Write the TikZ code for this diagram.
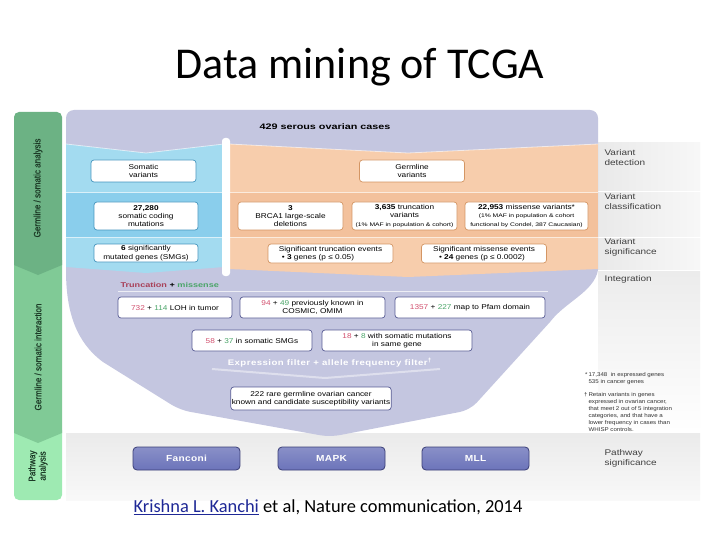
\documentclass[tikz,border=0pt]{standalone}
\usepackage{fontspec}
\setmainfont{Liberation Sans}
\newfontfamily\calibri{Carlito}
\usepackage{tikz}
\usetikzlibrary{positioning}
\definecolor{lav}{RGB}{196,198,224}
\definecolor{blueA}{RGB}{163,219,240}
\definecolor{blueB}{RGB}{138,206,236}
\definecolor{orangeA}{RGB}{247,205,172}
\definecolor{orangeB}{RGB}{243,193,156}
\definecolor{blueedge}{RGB}{70,150,190}
\definecolor{orangeedge}{RGB}{212,150,100}
\definecolor{lavedge}{RGB}{88,92,148}
\definecolor{greenA}{RGB}{108,178,132}
\definecolor{greenB}{RGB}{128,202,150}
\definecolor{greenC}{RGB}{158,234,178}
\definecolor{greentext}{RGB}{28,58,38}
\definecolor{trunc}{RGB}{210,80,110}
\definecolor{miss}{RGB}{75,165,105}
\definecolor{pathfill}{RGB}{108,116,186}
\definecolor{pathedge}{RGB}{58,62,118}
\definecolor{linkblue}{RGB}{30,40,150}
\newcommand\notesize{\fontsize{5.2}{5.9}\selectfont\addfontfeature{FakeStretch=1.3}}

\begin{document}
\begin{tikzpicture}[x=1pt,y=-1pt,
    box/.style={draw=#1,fill=white,rounded corners=3pt,line width=0.7pt,align=center,inner sep=1pt,font=\fontsize{7}{8.4}\selectfont\addfontfeature{FakeStretch=1.18}},
    box/.default=lavedge,
    footnote/.style={anchor=north west,align=left,text=black!80,font=\fontsize{5.5}{6.9}\selectfont\addfontfeature{FakeStretch=1.12}},
    rowlabel/.style={anchor=north west,align=left,text=black!75,font=\fontsize{8.2}{9.8}\selectfont\addfontfeature{FakeStretch=1.22}},
    sidelabel/.style={rotate=90,text=greentext,align=center,font=\fontsize{9.4}{10.4}\selectfont\addfontfeature{FakeStretch=0.86,FakeBold=0.5}},
    pathbox/.style={draw=pathedge,top color=pathfill!80,bottom color=pathfill,rounded corners=4pt,line width=0.8pt,minimum width=107,minimum height=23,text=white,font=\bfseries\fontsize{8.8}{10}\selectfont\addfontfeature{LetterSpace=4,FakeStretch=1.15}}]
  \useasboundingbox (0,0) rectangle (720,540);
  \fill[white] (0,0) rectangle (720,540);

  % title
  \node[font=\calibri\fontsize{44}{48}\selectfont] (title) at (360,67) {Data mining of TCGA};

  % left stage bar
  \fill[greenC] (14,430) -- (62,430) [rounded corners=5pt]-- (62,500) -- (14,500) [sharp corners]-- cycle;
  \fill[greenB] (14,260) -- (62,260) -- (62,433) -- (38,443) -- (14,433) -- cycle;
  \fill[greenA] (14,265) [rounded corners=5pt]-- (14,112) -- (62,112) [sharp corners]-- (62,265) -- (38,275) -- cycle;
  \node[sidelabel] (stage1) at (38,188) {Germline / somatic analysis};
  \node[sidelabel] (stage2) at (38,357) {Germline / somatic interaction};
  \node[sidelabel] (stage3) at (38,466) {Pathway\\analysis};

  % grey row bands on the right
  \shade[left color=gray!17,right color=gray!6] (598,143) rectangle (700,191);
  \shade[left color=gray!17,right color=gray!6] (598,193) rectangle (700,236);
  \shade[left color=gray!17,right color=gray!6] (598,238) rectangle (700,269);
  \shade[top color=gray!15,bottom color=white] (598,271) rectangle (700,432);
  \shade[top color=gray!16,bottom color=gray!5] (66,433) rectangle (700,500);

  % funnel
  \fill[lav] (66,270) [rounded corners=8pt]-- (66,110) -- (598,110) [sharp corners]-- (598,270)
    .. controls (594,292) and (565,302) .. (550,322) [rounded corners=10pt]-- (470,410) -- (330,437) -- (180,410) [sharp corners]-- (103,362)
    .. controls (76,342) and (66,312) .. cycle;
  \begin{scope}
    \clip (66,144) -- (146,153) -- (224,144) -- (224,267) -- (146,273) -- (66,267) -- cycle;
    \fill[blueA] (66,140) rectangle (224,275);
    \fill[blueB] (66,193) rectangle (224,237);
  \end{scope}
  \begin{scope}
    \clip (229,144) -- (408,153) -- (598,144) -- (598,269) -- (408,277) -- (229,269) -- cycle;
    \fill[orangeA] (229,140) rectangle (598,280);
    \fill[orangeB] (229,193) rectangle (598,237);
  \end{scope}
  \draw[white,opacity=.6,line width=.8pt] (66,144) -- (146,153) -- (224,144) (229,144) -- (408,153) -- (598,144);
  \draw[white,opacity=.6,line width=.8pt] (66,192.5) -- (224,192.5) (229,192.5) -- (598,192.5) (66,237) -- (224,237) (229,237) -- (598,237);
  \fill[white,rounded corners=3pt] (222,138) rectangle (230,276);
  \node[font=\bfseries\fontsize{8}{9}\selectfont\addfontfeature{FakeStretch=1.35}] (cases) at (325,127) {429 serous ovarian cases};

  % somatic side
  \node[box=blueedge,minimum width=105,minimum height=22] (somvar) at (143.5,171) {Somatic\\variants};
  \node[box=blueedge,minimum width=104,minimum height=28] (somcod) at (146,216) {\textbf{27,280}\\somatic coding\\mutations};
  \node[box=blueedge,minimum width=104,minimum height=18] (smg) at (146,253) {\textbf{6} significantly\\mutated genes (SMGs)};

  % germline side
  \node[box=orangeedge,minimum width=105,minimum height=22] (germvar) at (412,171) {Germline\\variants};
  \node[box=orangeedge,minimum width=105,minimum height=28] (brca) at (290.5,216) {\textbf{3}\\BRCA1 large-scale\\deletions};
  \node[box=orangeedge,minimum width=105,minimum height=28] (trv) at (404.5,216) {\textbf{3,635} truncation\\variants\\\notesize(1\% MAF in population \& cohort)};
  \node[box=orangeedge,minimum width=123,minimum height=28] (msv) at (526.5,216) {\textbf{22,953} missense variants*\\\notesize(1\% MAF in population \& cohort\\\notesize functional by Condel, 387 Caucasian)};
  \node[box=orangeedge,minimum width=125,minimum height=19,align=left] (sigtr) at (330.5,253.5) {Significant truncation events\\\hspace*{3pt}• \textbf{3} genes (p ≤ 0.05)};
  \node[box=orangeedge,minimum width=125,minimum height=19,align=left] (sigms) at (484,253.5) {Significant missense events\\\hspace*{6pt}• \textbf{24} genes (p ≤ 0.0002)};

  % integration
  \node[anchor=west,font=\bfseries\fontsize{7}{8}\selectfont\addfontfeature{FakeStretch=1.3}] (tm) at (117,285) {\textcolor{trunc!80!black}{Truncation} + \textcolor{miss}{missense}};
  \draw[white,opacity=.7,line width=1pt] (118,291.5) -- (548,291.5);
  \node[box,minimum width=114,minimum height=21] (loh) at (175,307.5) {\textcolor{trunc}{732} + \textcolor{miss}{114} LOH in tumor};
  \node[box,minimum width=145,minimum height=21] (cosmic) at (312.5,307.5) {\textcolor{trunc}{94} + \textcolor{miss}{49} previously known in\\COSMIC, OMIM};
  \node[box,minimum width=150,minimum height=21] (pfam) at (470,307.5) {\textcolor{trunc}{1357} + \textcolor{miss}{227} map to Pfam domain};
  \node[box,minimum width=120,minimum height=21] (insmg) at (252,340.5) {\textcolor{trunc}{58} + \textcolor{miss}{37} in somatic SMGs};
  \node[box,minimum width=150,minimum height=21] (samegene) at (397,340.5) {\textcolor{trunc}{18} + \textcolor{miss}{8} with somatic mutations\\in same gene};
  \node[text=white,font=\bfseries\fontsize{8}{9}\selectfont\addfontfeature{LetterSpace=6,FakeStretch=1.2}] (filter) at (330,363) {Expression filter + allele frequency filter\textsuperscript{†}};
  \draw[white,opacity=.45,line width=2pt] (212,369) -- (325,378) -- (440,369);
  \node[box,minimum width=158,minimum height=23] (rare) at (311,398.5) {222 rare germline ovarian cancer\\known and candidate susceptibility variants};

  % pathways
  \node[pathbox] (fanconi) at (186.5,458.5) {Fanconi};
  \node[pathbox] (mapk) at (331.5,458.5) {MAPK};
  \node[pathbox] (mll) at (475.5,458.5) {MLL};

  % row labels
  \node[rowlabel] (detect) at (601,146) {Variant\\detection};
  \node[rowlabel] (classif) at (601,190) {Variant\\classification};
  \node[rowlabel] (signif) at (601,235) {Variant\\significance};
  \node[rowlabel] (integr) at (601,272) {Integration};
  \node[rowlabel] (pathsig) at (601,446) {Pathway\\significance};

  % footnotes
  \node[footnote] (note1) at (585,369) {\llap{*\,}17,348 \ in expressed genes\\535 in cancer genes};
  \node[footnote] (note2) at (585,389) {\llap{†\,}Retain variants in genes\\expressed in ovarian cancer,\\that meet 2 out of 5 integration\\categories, and that have a\\lower frequency in cases than\\WHISP controls.};

  % reference
  \node[font=\calibri\fontsize{18.4}{20}\selectfont] (cite) at (328,507) {\textcolor{linkblue}{\underline{Krishna L. Kanchi}} et al, Nature communication, 2014};
\end{tikzpicture}
\end{document}
